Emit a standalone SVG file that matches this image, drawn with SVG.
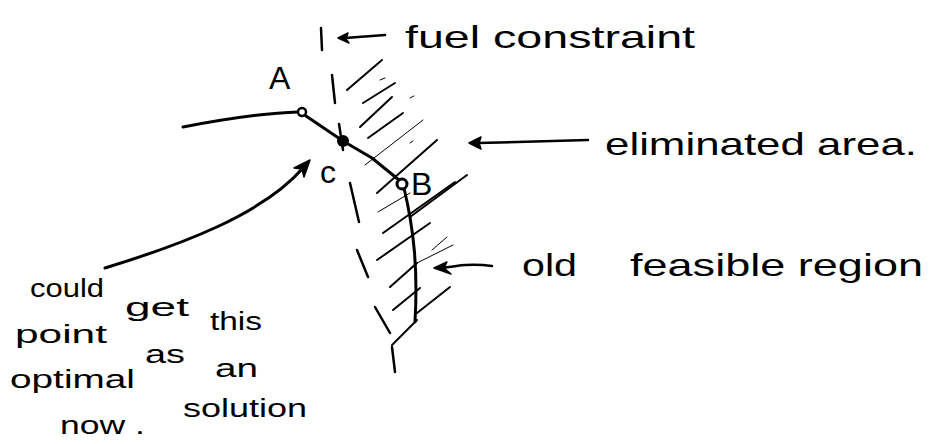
<svg xmlns="http://www.w3.org/2000/svg" width="931" height="444" viewBox="0 0 931 444">
<style>
.t{font-family:"Liberation Sans","DejaVu Sans",sans-serif;fill:#000;font-size:32px}
.w{font-size:26px}
.s{fill:none;stroke:#000;stroke-linecap:round;stroke-linejoin:round}
.main{stroke-width:3}
.h{stroke-width:2}
.hl{stroke-width:1}
.c{stroke-width:2.5}
.ah{fill:#000;stroke:#000;stroke-width:1.5;stroke-linejoin:round}
</style>
<rect width="931" height="444" fill="#fff"/>

<g id="constraint" class="s c">
<path d="M321,28 L322,50"/>
<path d="M332,75 L335,103"/>
<path d="M339,124 L343,150"/>
<path d="M350,183 L359,222"/>
<path d="M357,250 L368,277"/>
<path d="M375,307 L390,333"/>
<path d="M392,347 L395,372"/>
</g>

<g id="hatching" class="s">
<path class="h" d="M347,90 L382,60"/>
<path class="h" d="M363,103 L395,83"/>
<path class="h" d="M360,127 L392,97"/>
<path class="h" d="M368,138 L403,113"/>
<path class="hl" d="M365,165 L423,120"/>
<path class="h" d="M377,193 L437,140"/>
<path class="h" d="M410,217 L467,175"/>
<path class="hl" d="M378,212 L410,193"/>
<path class="h" d="M383,233 L455,182"/>
<path class="h" d="M377,260 L430,223"/>
<path class="hl" d="M432,250 L447,237"/>
<path class="h" d="M390,287 L417,263"/>
<path class="hl" d="M417,263 L453,245"/>
<path class="h" d="M393,310 L420,288"/>
<path class="h" d="M417,313 L450,287"/>
<path class="h" d="M392,345 L417,320"/>
<path class="hl" d="M380,80 L385,78"/>
<path class="hl" d="M410,98 L414,96"/>
<path class="hl" d="M410,143 L413,141"/>
</g>

<g id="feasible-boundary" class="s main">
<path d="M183,127 C 220,120 260,113 298,112"/>
<path d="M306,116 L343,141 L372,158 L399,180"/>
<path d="M404,188 C 414,230 418,270 415,322"/>
</g>

<g id="A">
<circle cx="302" cy="112" r="4" fill="#fff" stroke="#000" stroke-width="2.5"/>
<text class="t" x="269" y="89" font-size="24">A</text>
</g>
<g id="C">
<circle cx="343" cy="141" r="6" fill="#000"/>
<text class="t" x="320" y="183" font-size="26">c</text>
</g>
<g id="B">
<circle cx="402" cy="184" r="5" fill="#fff" stroke="#000" stroke-width="3"/>
<text class="t" x="411" y="195" font-size="27">B</text>
</g>

<g id="connectors" class="s">
<path class="c" d="M385,35 L345,38"/>
<polygon class="ah" points="338,38 348,33 346,39 349,43"/>
<path class="c" d="M588,140 L478,143"/>
<polygon class="ah" points="469,143 481,137 479,143 481,149"/>
<path class="c" d="M492,266 C 470,263 455,266 443,268"/>
<polygon class="ah" points="434,268 447,262 444,268 451,274"/>
<path class="main" d="M105,268 C 180,245 262,215 303,168"/>
<polygon class="ah" points="310,160 294,168 302,169 304,177"/>
</g>

<g id="labels">
<text class="t" x="405" y="48" textLength="290" lengthAdjust="spacingAndGlyphs">fuel constraint</text>
<text class="t" x="605" y="155" font-size="30" textLength="312" lengthAdjust="spacingAndGlyphs">eliminated area.</text>
<text class="t" x="522" y="276" font-size="32" textLength="55" lengthAdjust="spacingAndGlyphs">old</text>
<text class="t" x="630" y="276" font-size="32" textLength="293" lengthAdjust="spacingAndGlyphs">feasible region</text>
<text class="t w" x="30" y="297" textLength="74" lengthAdjust="spacingAndGlyphs">could</text>
<text class="t w" x="125" y="316" textLength="64" lengthAdjust="spacingAndGlyphs">get</text>
<text class="t w" x="210" y="330" textLength="52" lengthAdjust="spacingAndGlyphs">this</text>
<text class="t w" x="15" y="343" textLength="92" lengthAdjust="spacingAndGlyphs">point</text>
<text class="t w" x="145" y="363" textLength="40" lengthAdjust="spacingAndGlyphs">as</text>
<text class="t w" x="215" y="377" textLength="43" lengthAdjust="spacingAndGlyphs">an</text>
<text class="t w" x="10" y="388" textLength="125" lengthAdjust="spacingAndGlyphs">optimal</text>
<text class="t w" x="183" y="417" textLength="124" lengthAdjust="spacingAndGlyphs">solution</text>
<text class="t w" x="60" y="434" textLength="85" lengthAdjust="spacingAndGlyphs">now .</text>
</g>
</svg>
